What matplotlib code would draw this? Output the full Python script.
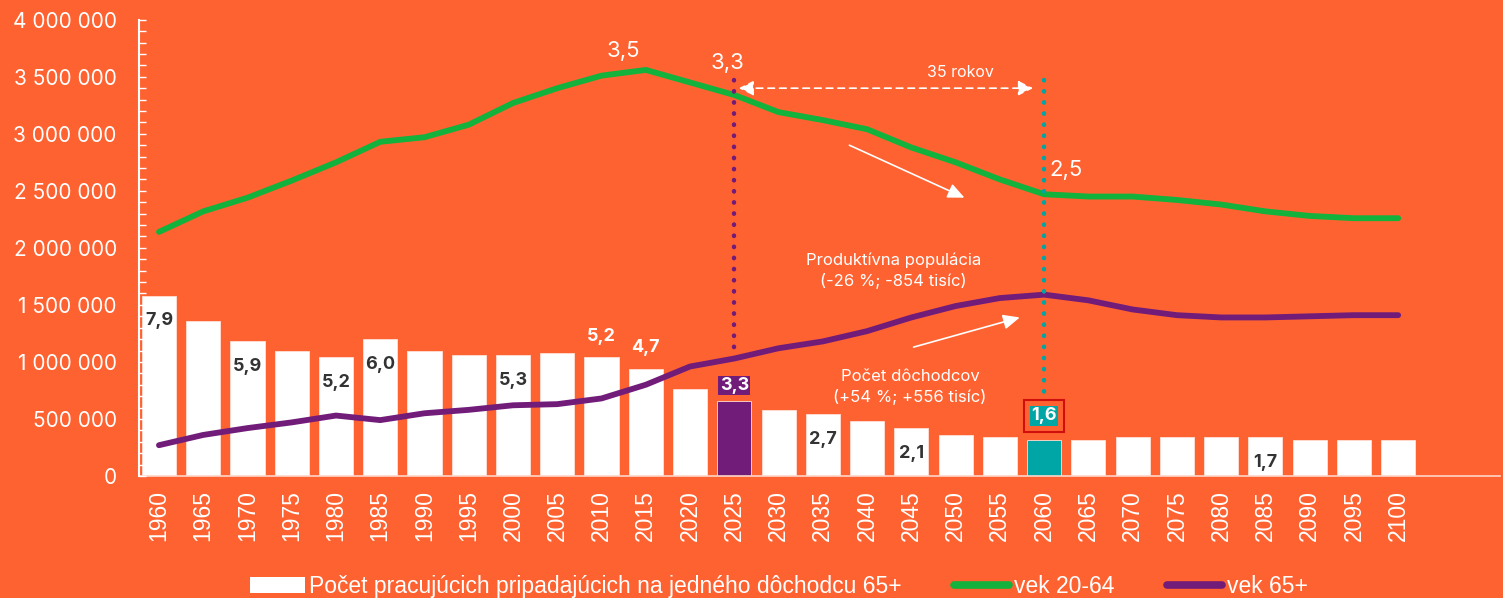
import numpy as np
import matplotlib
matplotlib.use("Agg")
import matplotlib.pyplot as plt
from matplotlib.patches import Patch
from matplotlib.lines import Line2D
from matplotlib.ticker import MultipleLocator, FuncFormatter

# data
years = [1960, 1965, 1970, 1975, 1980, 1985, 1990, 1995, 2000, 2005, 2010, 2015,
         2020, 2025, 2030, 2035, 2040, 2045, 2050, 2055, 2060, 2065, 2070, 2075,
         2080, 2085, 2090, 2095, 2100]
ratio = [7.9, 6.8, 5.9, 5.5, 5.2, 6.0, 5.5, 5.3, 5.3, 5.4, 5.2, 4.7,
         3.8, 3.3, 2.9, 2.7, 2.4, 2.1, 1.8, 1.7, 1.6, 1.6, 1.7, 1.7,
         1.7, 1.7, 1.6, 1.6, 1.6]
age_20_64 = [2140000, 2320000, 2440000, 2590000, 2750000, 2930000, 2970000, 3080000,
             3270000, 3400000, 3510000, 3560000, 3450000, 3340000, 3190000, 3120000,
             3040000, 2880000, 2750000, 2600000, 2470000, 2450000, 2450000, 2420000,
             2380000, 2320000, 2280000, 2260000, 2260000]
age_65 = [270000, 360000, 420000, 470000, 530000, 490000, 550000, 580000,
          620000, 630000, 680000, 800000, 960000, 1030000, 1120000, 1180000,
          1270000, 1390000, 1490000, 1560000, 1590000, 1540000, 1460000, 1410000,
          1390000, 1390000, 1400000, 1410000, 1410000]
# which bars get a value label and where
labels_inside = {1960: "7,9", 1970: "5,9", 1980: "5,2", 1985: "6,0", 2000: "5,3",
                 2035: "2,7", 2045: "2,1", 2085: "1,7"}
labels_above = {2010: "5,2", 2015: "4,7"}

ORANGE = "#FF6231"
GREEN = "#12B23C"
PURPLE = "#721C7A"
TEAL = "#00A5A5"
DARK = "#333333"
WHITE = "white"
SANS = ["Inter", "DejaVu Sans"]
NARROW = ["Liberation Sans Narrow", "Liberation Sans", "DejaVu Sans"]

plt.rcParams["font.family"] = SANS

fig = plt.figure(figsize=(15.03, 5.98), dpi=100, facecolor=ORANGE)
ax = fig.add_axes([0.0925, 0.204, 0.9055, 0.763])
ax.set_facecolor(ORANGE)
x = np.arange(len(years))

bar_colors = [WHITE] * len(years)
bar_colors[years.index(2025)] = PURPLE
bar_colors[years.index(2060)] = TEAL
ax.bar(x, ratio, width=0.77, color=bar_colors, edgecolor="#FFE0D6", linewidth=0.6, zorder=2)
ax.set_ylim(0, 20)
ax.set_xlim(-0.45, 30.3)
ax.yaxis.set_visible(False)

for yr, s in labels_inside.items():
    i = years.index(yr)
    ax.annotate(s, (i, ratio[i]), xytext=(0, -18), textcoords="offset points",
                ha="center", va="center", fontsize=13, fontweight="bold", color=DARK)
for yr, s in labels_above.items():
    i = years.index(yr)
    ax.annotate(s, (i, ratio[i]), xytext=(0, 15), textcoords="offset points",
                ha="center", va="center", fontsize=13, fontweight="bold", color=WHITE)

i25 = years.index(2025)
ax.annotate("3,3", (i25, ratio[i25]), xytext=(0, 11), textcoords="offset points",
            ha="center", va="center", fontsize=13, fontweight="bold", color=WHITE,
            bbox=dict(boxstyle="square,pad=0.08", fc=PURPLE, ec="none"))
i60 = years.index(2060)
ax.annotate("1,6", (i60, ratio[i60]), xytext=(0, 17), textcoords="offset points",
            ha="center", va="center", fontsize=13, fontweight="bold", color=WHITE,
            bbox=dict(boxstyle="square,pad=0.08", fc=TEAL, ec="none"), zorder=5)
ax.annotate("1,6", (i60, ratio[i60]), xytext=(0, 17), textcoords="offset points",
            ha="center", va="center", fontsize=13, fontweight="bold", color="none",
            bbox=dict(boxstyle="square,pad=0.4", fc="none", ec="#D0100C", lw=1.5), zorder=5)

ax.set_xticks(x)
ax.set_xticklabels([str(y) for y in years], rotation=90, fontsize=16.5,
                   color=WHITE, family=NARROW)
ax.tick_params(axis="x", length=0, pad=10)
for side in ["top", "right", "left"]:
    ax.spines[side].set_visible(False)
ax.spines["bottom"].set_color("#FFD6C8")
ax.spines["bottom"].set_linewidth(1.2)

# population lines on a twin axis drawn over the bars
ax2 = ax.twinx()
ax2.plot(x, age_20_64, color=GREEN, lw=4.2, solid_capstyle="round",
         solid_joinstyle="round", zorder=3)
ax2.plot(x, age_65, color=PURPLE, lw=4.2, solid_capstyle="round",
         solid_joinstyle="round", zorder=3)
ax2.set_ylim(0, 4000000)
ax2.yaxis.tick_left()
ax2.yaxis.set_major_locator(MultipleLocator(500000))
ax2.yaxis.set_minor_locator(MultipleLocator(100000))
ax2.yaxis.set_major_formatter(FuncFormatter(lambda v, p: f"{v:,.0f}".replace(",", " ")))
ax2.tick_params(axis="y", which="both", direction="in", length=5, width=1,
                color=WHITE, labelcolor=WHITE, labelsize=15, pad=16)
for side in ["top", "right", "bottom"]:
    ax2.spines[side].set_visible(False)
ax2.spines["left"].set_color(WHITE)
ax2.spines["left"].set_linewidth(1.5)

# dotted markers for 2025 and 2060
ax2.plot([i25, i25], [3470000, 1060000], color=PURPLE, lw=3.2,
         linestyle=(0, (0.1, 2.4)), dash_capstyle="round", zorder=4)
ax2.plot([i60, i60], [3470000, 680000], color=TEAL, lw=3.2,
         linestyle=(0, (0.1, 2.4)), dash_capstyle="round", zorder=4)

ax2.annotate("", xy=(i25 + 0.1, 3400000), xytext=(i60 - 0.25, 3400000),
             arrowprops=dict(arrowstyle="<|-|>,head_length=0.9,head_width=0.45",
                             color=WHITE, lw=1.2, linestyle=(0, (4, 3)),
                             shrinkA=0, shrinkB=0))
ax2.text(18.1, 3540000, "35 rokov", ha="center", va="center", fontsize=11.5, color=WHITE)

ax2.text(10.5, 3730000, "3,5", ha="center", va="center", fontsize=16, color=WHITE)
ax2.text(12.85, 3620000, "3,3", ha="center", va="center", fontsize=16, color=WHITE)
ax2.text(20.5, 2680000, "2,5", ha="center", va="center", fontsize=16, color=WHITE)

ax2.annotate("", xy=(18.2, 2440000), xytext=(15.6, 2900000),
             arrowprops=dict(arrowstyle="-|>,head_length=1.0,head_width=0.45",
                             color=WHITE, lw=1.2, shrinkA=0, shrinkB=0))
ax2.annotate("", xy=(19.45, 1390000), xytext=(17.05, 1130000),
             arrowprops=dict(arrowstyle="-|>,head_length=1.0,head_width=0.45",
                             color=WHITE, lw=1.2, shrinkA=0, shrinkB=0))
ax2.text(16.6, 1800000, "Produktívna populácia\n(-26 %; -854 tisíc)", ha="center",
         va="center", fontsize=12, color=WHITE, linespacing=1.4)
ax2.text(16.97, 780000, "Počet dôchodcov\n(+54 %; +556 tisíc)", ha="center",
         va="center", fontsize=12, color=WHITE, linespacing=1.4)

handles = [Patch(facecolor=WHITE, edgecolor="none"),
           Line2D([], [], color=GREEN, lw=5.5, solid_capstyle="round"),
           Line2D([], [], color=PURPLE, lw=5.5, solid_capstyle="round")]
names = ["Počet pracujúcich pripadajúcich na jedného dôchodcu 65+", "vek 20-64", "vek 65+"]
fig.legend(handles, names, loc="lower center", bbox_to_anchor=(0.518, -0.035), ncol=3,
           frameon=False, handlelength=2.4, handletextpad=0.2, columnspacing=2.3,
           labelcolor=WHITE, prop={"family": NARROW, "size": 16.5})

fig.savefig("out.png", dpi=100, facecolor=ORANGE)
